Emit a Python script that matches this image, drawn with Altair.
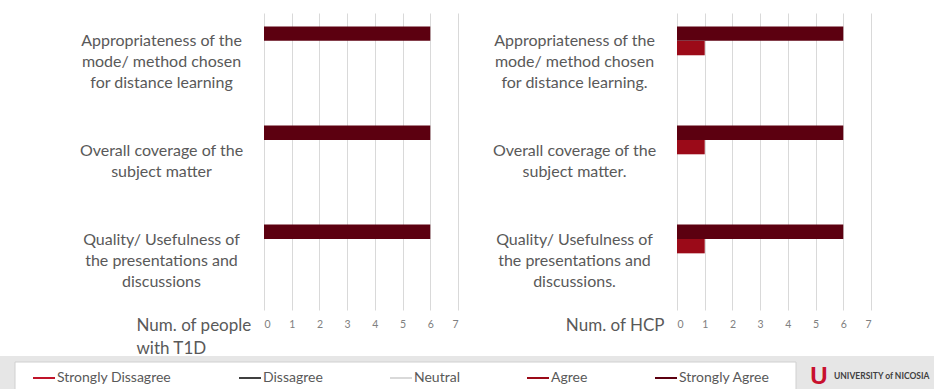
import altair as alt
import pandas as pd

# ---------------- data ----------------
series = ["Strongly Dissagree", "Dissagree", "Neutral", "Agree", "Strongly Agree"]
series_colors = ["#c0142a", "#404040", "#d9d9d9", "#9b0a18", "#5c0010"]

categories_t1d = [
    "Appropriateness of the\nmode/ method chosen\nfor distance learning",
    "Overall coverage of the\nsubject matter",
    "Quality/ Usefulness of\nthe presentations and\ndiscussions",
]
categories_hcp = [
    "Appropriateness of the\nmode/ method chosen\nfor distance learning.",
    "Overall coverage of the\nsubject matter.",
    "Quality/ Usefulness of\nthe presentations and\ndiscussions.",
]

t1d_strongly_disagree = [0, 0, 0]
t1d_disagree = [0, 0, 0]
t1d_neutral = [0, 0, 0]
t1d_agree = [0, 0, 0]
t1d_strongly_agree = [6, 6, 6]

hcp_strongly_disagree = [0, 0, 0]
hcp_disagree = [0, 0, 0]
hcp_neutral = [0, 0, 0]
hcp_agree = [1, 1, 1]
hcp_strongly_agree = [6, 6, 6]

x_ticks = [0, 1, 2, 3, 4, 5, 6, 7]
title_t1d = ["Num. of people", "with T1D"]
title_hcp = "Num. of HCP"
logo_text = ["UNIVERSITY of NICOSIA"]


def build(cats, cols):
    rows = []
    for s, vals in zip(series, cols):
        for c, v in zip(cats, vals):
            rows.append({"category": c, "series": s, "value": v})
    return pd.DataFrame(rows)


df_t1d = build(categories_t1d, [t1d_strongly_disagree, t1d_disagree, t1d_neutral,
                                t1d_agree, t1d_strongly_agree])
df_hcp = build(categories_hcp, [hcp_strongly_disagree, hcp_disagree, hcp_neutral,
                                hcp_agree, hcp_strongly_agree])

FONT = "Lato"
TXT = "#595959"
W, H = 194, 297
LH = 21

legend = alt.Legend(
    orient="none", legendX=-231, legendY=354, direction="horizontal", title=None,
    symbolType="M-1,-0.09H1V0.09H-1Z", symbolSize=484, symbolStrokeWidth=0,
    labelFont=FONT, labelFontSize=14, labelColor=TXT, columnPadding=67,
    labelOffset=2, padding=0, symbolOpacity=1,
)

label_offset = {
    "condition": {"test": "length(split(datum.label, '\\n')) == 3", "value": -LH},
    "value": -LH / 2,
}


def panel(df, cats, xtitle, title_x, title_align, show_legend):
    return alt.Chart(df).mark_bar().encode(
        x=alt.X("value:Q", scale=alt.Scale(domain=[0, 7], nice=False),
                axis=alt.Axis(values=x_ticks, grid=True, gridColor="#d9d9d9", domain=False,
                              ticks=False, labelFont=FONT, labelFontSize=10.5, labelColor="#808080",
                              labelPadding=9, title=xtitle, titleFont=FONT, titleFontSize=17,
                              titleFontWeight="normal", titleColor=TXT, titleAlign=title_align,
                              titleX=title_x, titleY=7, titleBaseline="top", titleLineHeight=23)),
        y=alt.Y("category:N", sort=cats,
                scale=alt.Scale(paddingInner=0.273, paddingOuter=0.136),
                axis=alt.Axis(title=None, domain=False, ticks=False, grid=False,
                              labelExpr="split(datum.label, '\\n')", labelAlign="center",
                              labelBaseline="middle", labelPadding=103, labelFont=FONT,
                              labelFontSize=16, labelColor=TXT, labelLineHeight=LH, labelLimit=0,
                              labelOffset=label_offset)),
        yOffset=alt.YOffset("series:N", sort=list(reversed(series)),
                            scale=alt.Scale(paddingInner=0, paddingOuter=0)),
        color=alt.Color("series:N", scale=alt.Scale(domain=series, range=series_colors),
                        legend=legend if show_legend else None),
    ).properties(width=W, height=H)


one = pd.DataFrame({"k": [0]})

strip = alt.Chart(one).mark_rect(color="#e6e6e6").encode(
    x=alt.value(-264), x2=alt.value(670), y=alt.value(343), y2=alt.value(376))
box = alt.Chart(one).mark_rect(color="#ffffff", stroke="#d0d0d0", strokeWidth=1).encode(
    x=alt.value(-249), x2=alt.value(532), y=alt.value(349), y2=alt.value(380))

left = alt.layer(strip, box, panel(df_t1d, categories_t1d, title_t1d, -128, "left", True))

logo_df = pd.DataFrame({"t": logo_text})
logo_icon = alt.Chart(logo_df).mark_text(text="U", font="Liberation Sans", fontWeight="bold",
                                         fontSize=24, color="#c8102e", align="center",
                                         baseline="middle").encode(
    x=alt.value(142), y=alt.value(364))
logo = alt.Chart(logo_df).mark_text(font=FONT, fontWeight="bold", fontSize=8.5, color="#404040",
                                    align="left", baseline="middle").encode(
    x=alt.value(157), y=alt.value(363), text="t:N")

right = alt.layer(panel(df_hcp, categories_hcp, title_hcp, -13, "right", False), logo_icon, logo)

chart = alt.hconcat(left, right, spacing=219, bounds="flush").resolve_scale(
    x="independent", y="independent", yOffset="independent"
).properties(
    padding={"left": 0, "top": 13, "right": 0, "bottom": 0},
    background="#ffffff",
).configure_view(stroke=None)

chart.save("out.html", embed_options={"renderer": "svg", "actions": False})
